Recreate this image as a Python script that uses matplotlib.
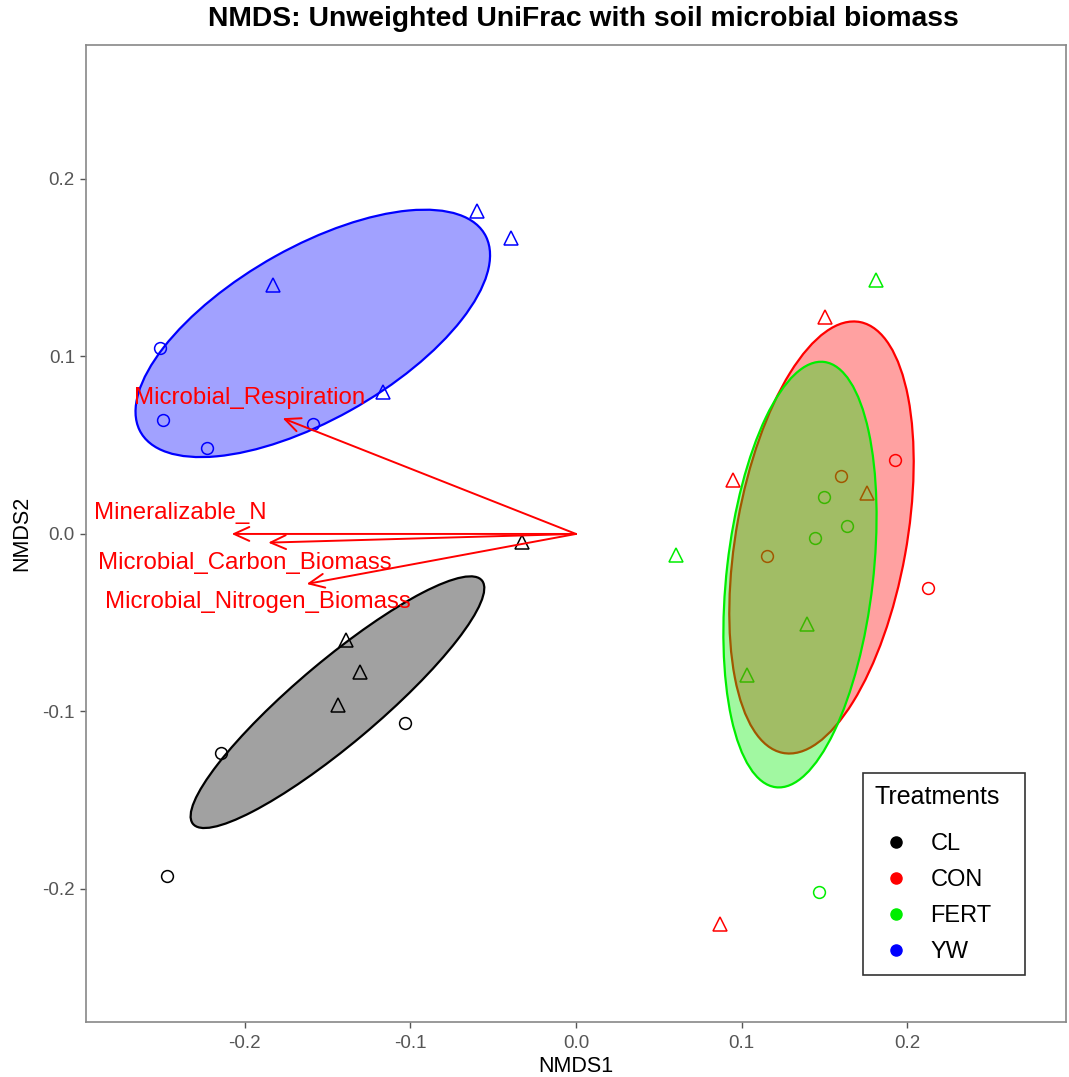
import matplotlib.pyplot as plt
from matplotlib.patches import Ellipse
from matplotlib.lines import Line2D
from matplotlib.colors import to_rgba

plt.rcParams['font.family'] = ['Liberation Sans', 'DejaVu Sans']

# treatments
groups = ['CL', 'CON', 'FERT', 'YW']
colors = {'CL': 'black', 'CON': 'red', 'FERT': '#00ee00', 'YW': 'blue'}

# site scores (circles and triangles per treatment)
cl_circ_x = [-0.2471, -0.2147, -0.1033]
cl_circ_y = [-0.1925, -0.1233, -0.1063]
cl_tri_x = [-0.0328, -0.1390, -0.1305, -0.1436]
cl_tri_y = [-0.0047, -0.0596, -0.0780, -0.0963]

con_circ_x = [0.1927, 0.1601, 0.1152, 0.2129]
con_circ_y = [0.0419, 0.0328, -0.0125, -0.0307]
con_tri_x = [0.1505, 0.0950, 0.1756, 0.0870]
con_tri_y = [0.1221, 0.0306, 0.0230, -0.2197]

fert_circ_x = [0.1498, 0.1444, 0.1636, 0.1468]
fert_circ_y = [0.0206, -0.0024, 0.0045, -0.2016]
fert_tri_x = [0.1813, 0.0604, 0.1394, 0.1035]
fert_tri_y = [0.1433, -0.0119, -0.0510, -0.0793]

yw_circ_x = [-0.2514, -0.2494, -0.2231, -0.1591]
yw_circ_y = [0.1046, 0.0640, 0.0485, 0.0617]
yw_tri_x = [-0.0600, -0.0393, -0.1833, -0.1164]
yw_tri_y = [0.1819, 0.1665, 0.1400, 0.0797]

circ_x = {'CL': cl_circ_x, 'CON': con_circ_x, 'FERT': fert_circ_x, 'YW': yw_circ_x}
circ_y = {'CL': cl_circ_y, 'CON': con_circ_y, 'FERT': fert_circ_y, 'YW': yw_circ_y}
tri_x = {'CL': cl_tri_x, 'CON': con_tri_x, 'FERT': fert_tri_x, 'YW': yw_tri_x}
tri_y = {'CL': cl_tri_y, 'CON': con_tri_y, 'FERT': fert_tri_y, 'YW': yw_tri_y}

# group ellipses: centre x, centre y, semi-major, semi-minor, angle (deg)
ell_cx = [-0.1441, 0.1483, 0.1353, -0.1590]
ell_cy = [-0.0948, -0.0020, -0.0229, 0.1130]
ell_a = [0.111, 0.1236, 0.1207, 0.118]
ell_b = [0.024, 0.0514, 0.0442, 0.049]
ell_ang = [38, 79, 83, 27.5]

# env vectors
env_names = ['Microbial_Respiration', 'Mineralizable_N',
             'Microbial_Carbon_Biomass', 'Microbial_Nitrogen_Biomass']
env_x = [-0.1772, -0.2080, -0.1859, -0.1627]
env_y = [0.0652, 0.0000, -0.0049, -0.0282]
lab_x = [-0.197, -0.2393, -0.200, -0.192]
lab_y = [0.0766, 0.0118, -0.0162, -0.0381]

fig = plt.figure(figsize=(10.69, 10.77), dpi=100)
ax = fig.add_axes([86/1069, 55/1077, 980/1069, 977/1077])

for g in groups:
    ax.plot(circ_x[g], circ_y[g], 'o', ms=8.5, mfc='none', mec=colors[g], mew=1.1, zorder=2)
    ax.plot(tri_x[g], tri_y[g], '^', ms=9.5, mfc='none', mec=colors[g], mew=1.1, zorder=2)

for i, g in enumerate(groups):
    e = Ellipse((ell_cx[i], ell_cy[i]), 2*ell_a[i], 2*ell_b[i], angle=ell_ang[i],
                facecolor=to_rgba(colors[g], 0.37), edgecolor=colors[g], lw=1.6, zorder=3)
    ax.add_patch(e)

for i in range(len(env_names)):
    ax.annotate('', xy=(env_x[i], env_y[i]), xytext=(0, 0),
                arrowprops=dict(arrowstyle='->, head_length=0.55, head_width=0.25',
                                color='red', lw=1.4, shrinkA=0, shrinkB=0,
                                mutation_scale=20), zorder=4)
    ax.text(lab_x[i], lab_y[i], env_names[i], color='red', fontsize=17.3,
            ha='center', va='center', zorder=5)

ax.set_xlim(-0.296, 0.296)
ax.set_ylim(-0.275, 0.2755)
ax.set_xticks([-0.2, -0.1, 0.0, 0.1, 0.2])
ax.set_yticks([-0.2, -0.1, 0.0, 0.1, 0.2])
ax.set_xticklabels(['-0.2', '-0.1', '0.0', '0.1', '0.2'])
ax.set_yticklabels(['-0.2', '-0.1', '0.0', '0.1', '0.2'])
ax.tick_params(colors='#555555', labelsize=13.5, length=4, width=1)
ax.tick_params(axis='x', pad=5)
ax.tick_params(axis='y', pad=4)
for s in ax.spines.values():
    s.set_color('#888888')
    s.set_linewidth(1.2)

ax.set_xlabel('NMDS1', fontsize=15.5, labelpad=3)
ax.set_ylabel('NMDS2', fontsize=15.5, labelpad=7)
fig.text(583/1069, 1 - 19/1077, 'NMDS: Unweighted UniFrac with soil microbial biomass',
         fontsize=20.3, fontweight='bold', ha='center', va='center')

handles = [Line2D([], [], marker='o', ls='none', color=colors[g], ms=8) for g in groups]
leg = ax.legend(handles, groups, title='Treatments', loc='lower left',
                bbox_to_anchor=((863 - 86) / 980, 0.048, (1025 - 863) / 980, 0),
                mode='expand', borderaxespad=0, fontsize=17,
                title_fontsize=18, frameon=True, fancybox=False, labelspacing=0.6,
                handletextpad=0.55, borderpad=0.5, handlelength=1.8)
leg.get_frame().set_edgecolor('black')
leg.get_frame().set_linewidth(1.2)
leg._legend_box.align = 'left'
leg._legend_box.sep = 17

fig.savefig('out.png', dpi=100)
